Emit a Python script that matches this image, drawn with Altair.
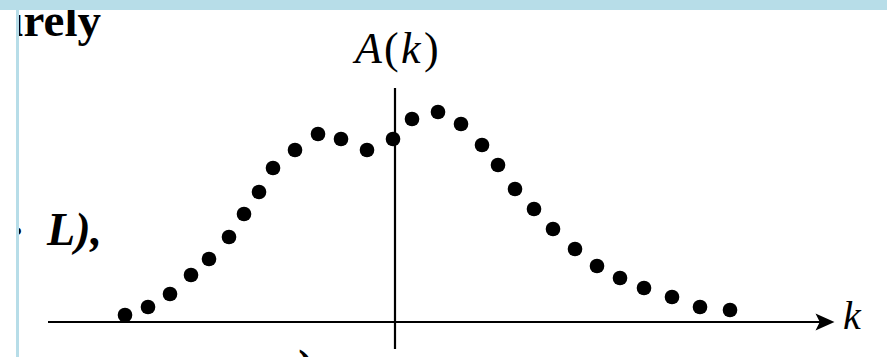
import altair as alt
import pandas as pd

# Sampled spectrum A(k): wave number k and amplitude A
k_vals = [-27.0, -24.7, -22.5, -20.4, -18.6, -16.6, -15.1, -13.6, -12.2, -10.0,
          -7.7, -5.4, -2.8, -0.2, 1.7, 4.3, 6.6, 8.7, 10.3, 12.0,
          13.9, 15.8, 18.0, 20.2, 22.5, 24.9, 27.7, 30.5, 33.5]
a_vals = [0.7, 1.5, 2.8, 4.7, 6.3, 8.5, 10.8, 13.0, 15.4, 17.2,
          18.8, 18.3, 17.2, 18.3, 20.3, 21.0, 19.8, 17.7, 15.7, 13.3,
          11.3, 9.3, 7.3, 5.6, 4.4, 3.4, 2.5, 1.5, 1.2]

# Extent of the drawn k axis and A axis
k_axis_range = [-34.7, 43.0]
a_axis_range = [-2.7, 23.4]

# Pieces of the vertical-axis title "A(k)": italic symbols, upright brackets
title_parts = ["A", "(", "k", ")"]
title_styles = ["italic", "normal", "italic", "normal"]
title_k = [-4.0, -1.1, 0.6, 2.9]

W, H = 887, 357
xs = alt.Scale(domain=[-39.5, 49.2], nice=False, zero=False)
ys = alt.Scale(domain=[-3.5, 32.2], nice=False, zero=False)


def X(field):
    return alt.X(field, type="quantitative", scale=xs, axis=None)


def Y(field):
    return alt.Y(field, type="quantitative", scale=ys, axis=None)


one = alt.Data(values=[{}])

dots = alt.Chart(pd.DataFrame({"k": k_vals, "A": a_vals})).mark_circle(
    size=215, color="black", opacity=1
).encode(x=X("k"), y=Y("A"))

h_axis = alt.Chart(pd.DataFrame({"k": [k_axis_range[0]], "k2": [k_axis_range[1]], "A": [0]})).mark_rule(
    color="black", strokeWidth=2.2
).encode(x=X("k"), x2="k2", y=Y("A"))

v_axis = alt.Chart(pd.DataFrame({"k": [0], "A": [a_axis_range[0]], "A2": [a_axis_range[1]]})).mark_rule(
    color="black", strokeWidth=2.2
).encode(x=X("k"), y=Y("A"), y2="A2")

arrow = alt.Chart(pd.DataFrame({"k": [k_axis_range[1]], "A": [0]})).mark_point(
    shape="M-1,-0.9L1,0L-1,0.9L-0.55,0Z", filled=True, size=360,
    color="black", opacity=1, strokeWidth=0
).encode(x=X("k"), y=Y("A"))

title_df = pd.DataFrame({"k": title_k, "A": [25.9] * 4, "t": title_parts, "s": title_styles})
a_label = alt.layer(*[
    alt.Chart(title_df).transform_filter(alt.datum.s == st).mark_text(
        font="Liberation Serif", fontStyle=st, fontSize=44, align="left",
        baseline="alphabetic", color="black"
    ).encode(x=X("k"), y=Y("A"), text="t:N")
    for st in ["italic", "normal"]
])

k_label = alt.Chart(pd.DataFrame({"k": [44.8], "A": [-0.7], "t": ["k"]})).mark_text(
    font="Liberation Serif", fontStyle="italic", fontSize=40, align="left",
    baseline="alphabetic", color="black"
).encode(x=X("k"), y=Y("A"), text="t:N")


# Surrounding page text
def page_text(txt, x, y, align, style, size=46):
    return alt.Chart(one).mark_text(
        text=txt, font="Liberation Serif", fontWeight="bold", fontStyle=style,
        fontSize=size, align=align, baseline="alphabetic", color="black"
    ).encode(x=alt.value(x), y=alt.value(y))


t1 = page_text("urely", 101, 36, "right", "normal", 47)
t2 = page_text("L),", 102, 245, "right", "italic", 46)
t3 = page_text(":", 24, 249, "right", "italic", 46)
t4 = page_text(")", 306, 382, "center", "normal", 46)

# Frame strips
white_edge = alt.Chart(one).mark_rect(color="white", opacity=1).encode(
    x=alt.value(0), x2=alt.value(16), y=alt.value(0), y2=alt.value(H))
left_strip = alt.Chart(one).mark_rect(color="#b7dde8", opacity=1).encode(
    x=alt.value(16), x2=alt.value(19), y=alt.value(0), y2=alt.value(H))
top_strip = alt.Chart(one).mark_rect(color="#b7dde8", opacity=1).encode(
    x=alt.value(0), x2=alt.value(W), y=alt.value(0), y2=alt.value(10))

chart = alt.layer(
    t1, t2, t3, t4, h_axis, v_axis, arrow, dots, a_label, k_label,
    white_edge, left_strip, top_strip
).properties(
    width=W, height=H, autosize=alt.AutoSizeParams(type="none"), padding=0,
    background="white"
).configure_view(stroke=None)

chart.save("out.html", embed_options={"renderer": "svg", "actions": False})
